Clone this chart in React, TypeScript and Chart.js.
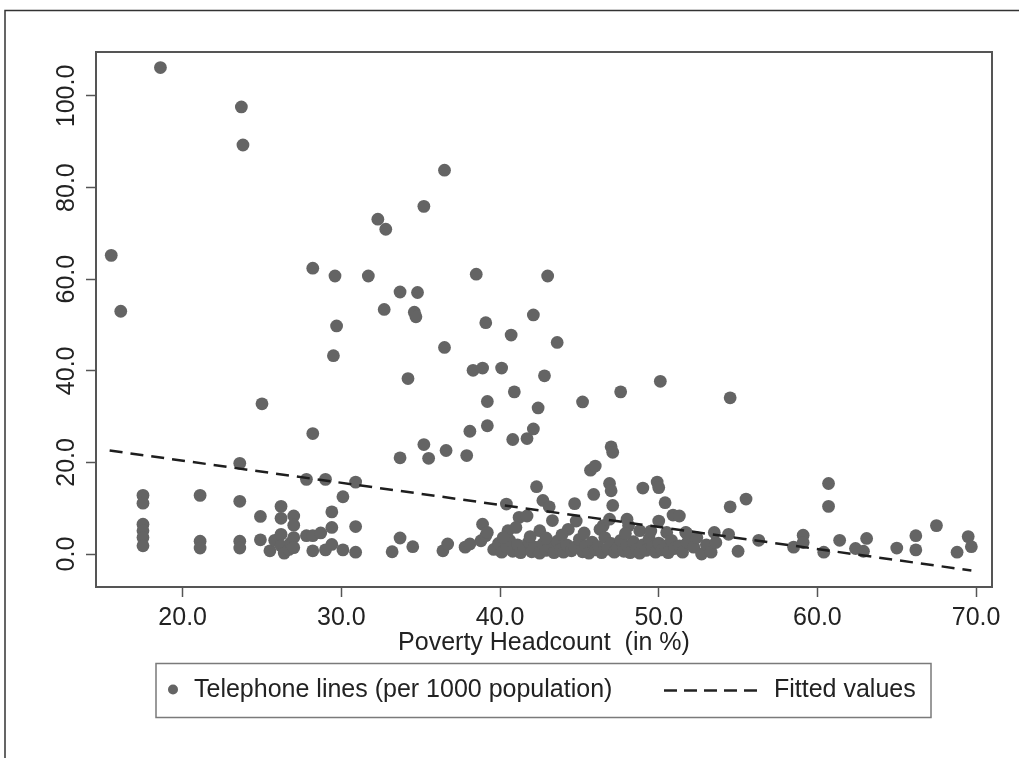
import React, { useEffect, useRef } from "react";
import { Chart, registerables } from "chart.js";

Chart.register(...registerables);

// Poverty headcount (x, %) for each observation
const povertyHeadcount: number[] = [
  // high values
  15.5, 16.1, 18.6, 23.7, 23.8, 25.0, 28.2, 28.2, 29.6, 29.7, 29.5, 31.7, 32.3, 32.8, 32.7, 33.7, 33.7, 34.2, 34.6, 34.7,
  34.8, 35.2, 35.2, 35.5, 36.5, 36.5, 36.6, 37.9, 38.1, 38.3, 38.5, 38.9, 39.1, 39.2, 39.2, 40.1, 40.7, 40.9, 40.8, 41.7,
  42.1, 42.1, 42.4, 42.8, 43.0, 43.6, 45.2, 47.6, 50.1, 54.5,
  // mid values
  17.5, 17.5, 21.1, 23.6, 23.6, 24.9, 26.2, 26.2, 27.0, 27.0, 27.8, 29.0, 29.4, 29.4, 30.1, 30.9, 30.9, 38.9, 40.4, 41.2,
  41.7, 42.3, 42.7, 43.1, 43.3, 44.7, 44.8, 45.7, 46.0, 45.9, 46.9, 47.0, 47.1, 47.0, 47.1, 48.0, 48.1, 49.0, 49.9, 50.0,
  50.0, 50.4, 50.9, 51.3, 54.5, 55.5, 60.7, 60.7, 67.5, 46.5, 46.9, 44.3, 42.5, 40.5, 41.0, 48.8, 51.7, 50.5, 46.3,
  // low values
  17.5, 17.5, 17.5, 17.5, 21.1, 21.1, 23.6, 23.6, 24.9, 25.5, 25.8, 26.2, 26.2, 26.4, 26.7, 26.8, 27.0, 27.0, 27.8, 28.2,
  28.2, 28.7, 29.0, 29.4, 30.1, 30.9, 33.2, 33.7, 34.5, 36.4, 36.7, 37.8, 38.1, 38.8, 39.1, 39.2,
  39.6, 39.9, 40.1, 40.4, 40.6, 40.8, 41.1, 41.3, 41.5, 41.8, 42.0, 42.2, 42.5, 42.7, 42.9, 43.1, 43.4, 43.6, 43.8, 44.0,
  44.2, 44.5, 44.7, 45.0, 45.2, 45.4, 45.6, 45.8, 46.0, 46.2, 46.4, 46.6, 46.8, 47.0, 47.2, 47.4, 47.6, 47.8, 48.0, 48.2,
  48.4, 48.6, 48.8, 49.0, 49.2, 49.4, 49.6, 49.8, 50.0, 50.2, 50.4, 50.6, 50.8, 51.0, 51.3, 51.5, 51.8, 52.2, 52.7, 53.0,
  53.3, 53.6, 53.5, 54.4, 55.0, 56.3, 58.5, 59.1, 59.1, 60.4, 61.4, 62.4, 62.9, 63.1, 65.0, 66.2, 66.2, 68.8, 69.5, 69.7,
  51.75, 41.9, 43.9, 45.3, 47.9, 49.5, 52.4, 40.2, 42.9,
];

// Telephone lines per 1000 population (y) for each observation
const telephoneLines: number[] = [
  // high values
  65.2, 53.0, 106.2, 97.6, 89.3, 32.8, 62.4, 26.3, 60.7, 49.8, 43.3, 60.7, 73.1, 70.9, 53.4, 57.2, 21.0, 38.3, 52.8, 51.8,
  57.1, 75.9, 23.9, 20.9, 83.8, 45.1, 22.6, 21.5, 26.8, 40.1, 61.1, 40.6, 50.5, 33.3, 28.0, 40.6, 47.8, 35.4, 25.0, 25.2,
  52.2, 27.3, 31.9, 38.9, 60.7, 46.2, 33.2, 35.4, 37.7, 34.1,
  // mid values
  12.8, 11.1, 12.8, 19.8, 11.5, 8.2, 10.4, 7.8, 8.3, 6.3, 16.3, 16.3, 9.2, 5.8, 12.5, 15.7, 6.0, 6.5, 10.9, 8.0,
  8.3, 14.7, 11.7, 10.3, 7.3, 11.0, 7.2, 18.3, 19.2, 13.0, 15.4, 13.8, 10.6, 23.4, 22.2, 7.6, 6.2, 14.4, 15.7, 14.5,
  7.2, 11.2, 8.5, 8.3, 10.3, 12.0, 15.4, 10.4, 6.2, 6.2, 7.6, 5.4, 5.1, 5.1, 5.8, 5.1, 4.7, 4.7, 5.4,
  // low values
  6.5, 5.1, 3.6, 1.8, 2.8, 1.3, 2.8, 1.3, 3.1, 0.7, 3.0, 4.3, 1.8, 0.2, 1.0, 2.4, 3.6, 1.4, 4.0, 4.0,
  0.7, 4.6, 0.9, 2.1, 0.9, 0.4, 0.5, 3.5, 1.6, 0.7, 2.2, 1.5, 2.2, 2.9, 4.0, 4.7,
  1.0, 2.3, 0.4, 1.6, 3.0, 0.6, 2.0, 0.3, 1.2, 2.6, 0.5, 1.5, 0.2, 2.2, 0.8, 1.7, 0.3, 2.8, 1.0, 0.4,
  2.0, 0.7, 1.5, 3.2, 0.5, 1.8, 0.2, 2.6, 0.9, 1.6, 0.3, 3.6, 1.1, 2.3, 0.4, 1.4, 3.0, 0.6, 1.9, 0.3,
  2.7, 1.0, 0.2, 2.0, 0.8, 3.4, 1.5, 0.4, 2.4, 0.9, 1.8, 0.3, 3.0, 1.2, 1.8, 0.4, 2.5, 1.5, 0.0, 2.0,
  0.4, 2.5, 4.7, 4.3, 0.6, 3.0, 1.5, 4.1, 2.5, 0.4, 3.0, 1.2, 0.6, 3.4, 1.3, 4.0, 0.9, 0.4, 3.8, 1.6,
  4.6, 3.8, 4.2, 4.6, 4.5, 5.0, 3.6, 3.6, 3.5,
];

// Fitted regression line end points
const fittedX: number[] = [15.4, 69.7];
const fittedY: number[] = [22.6, -3.6];

const xTickValues: number[] = [20, 30, 40, 50, 60, 70];
const xTickLabels: string[] = ["20.0", "30.0", "40.0", "50.0", "60.0", "70.0"];
const yTickValues: number[] = [0, 20, 40, 60, 80, 100];
const yTickLabels: string[] = ["0.0", "20.0", "40.0", "60.0", "80.0", "100.0"];

const xAxisTitle = "Poverty Headcount  (in %)";
const scatterLabel = "Telephone lines (per 1000 population)";
const fittedLabel = "Fitted values";

const FONT = "25px 'Liberation Sans', Arial, Helvetica, sans-serif";
const TEXT_COLOR = "#222222";
const DOT_COLOR = "#646464";
const AXIS_COLOR = "#555555";

const decorPlugin = {
  id: "decor",
  afterDraw(chart: any) {
    const { ctx, chartArea, scales } = chart;
    const { left, top, right, bottom } = chartArea;
    const xs = scales.x;
    const ys = scales.y;
    ctx.save();

    // plot box
    ctx.strokeStyle = AXIS_COLOR;
    ctx.lineWidth = 2;
    ctx.strokeRect(left, top, right - left, bottom - top);

    // tick labels
    ctx.fillStyle = TEXT_COLOR;
    ctx.font = FONT;
    ctx.textAlign = "center";
    ctx.textBaseline = "middle";
    xTickValues.forEach((v, i) => {
      ctx.fillText(xTickLabels[i], xs.getPixelForValue(v), 618);
    });
    yTickValues.forEach((v, i) => {
      ctx.save();
      ctx.translate(67, ys.getPixelForValue(v));
      ctx.rotate(-Math.PI / 2);
      ctx.fillText(yTickLabels[i], 0, 0);
      ctx.restore();
    });

    // axis title
    ctx.fillText(xAxisTitle, (left + right) / 2, 643);

    // legend
    const lx = 156, ly = 663.5, lw = 775, lh = 54;
    ctx.strokeStyle = "#7a7a7a";
    ctx.lineWidth = 1.5;
    ctx.strokeRect(lx, ly, lw, lh);
    const cy = ly + lh / 2;
    ctx.fillStyle = DOT_COLOR;
    ctx.beginPath();
    ctx.arc(173, cy - 1, 5, 0, Math.PI * 2);
    ctx.fill();
    ctx.fillStyle = TEXT_COLOR;
    ctx.textAlign = "left";
    ctx.fillText(scatterLabel, 194, cy);
    ctx.strokeStyle = "#222";
    ctx.lineWidth = 2.5;
    ctx.setLineDash([13, 7]);
    ctx.beginPath();
    ctx.moveTo(664, cy);
    ctx.lineTo(759, cy);
    ctx.stroke();
    ctx.setLineDash([]);
    ctx.fillText(fittedLabel, 774, cy);

    // outer figure frame
    ctx.strokeStyle = "#333";
    ctx.lineWidth = 1.5;
    ctx.beginPath();
    ctx.moveTo(5, 758);
    ctx.lineTo(5, 10.5);
    ctx.lineTo(1019, 10.5);
    ctx.stroke();

    ctx.restore();
  },
};

export default function App() {
  const canvasRef = useRef<HTMLCanvasElement | null>(null);

  useEffect(() => {
    const canvas = canvasRef.current;
    if (!canvas) return;
    const scatterPoints = povertyHeadcount.map((x, i) => ({ x, y: telephoneLines[i] }));
    const fittedPoints = fittedX.map((x, i) => ({ x, y: fittedY[i] }));

    const chart = new Chart(canvas, {
      type: "scatter",
      data: {
        datasets: [
          {
            type: "line",
            label: fittedLabel,
            data: fittedPoints,
            borderColor: "#1e1e1e",
            borderWidth: 2.5,
            borderDash: [13, 8],
            pointRadius: 0,
            fill: false,
            order: 0,
          } as any,
          {
            type: "scatter",
            label: scatterLabel,
            data: scatterPoints,
            backgroundColor: DOT_COLOR,
            borderWidth: 0,
            pointRadius: 6.4,
            pointHoverRadius: 6.4,
            order: 1,
          },
        ],
      },
      options: {
        responsive: false,
        devicePixelRatio: 1,
        animation: false,
        layout: { padding: { left: 8, top: 52, right: 27, bottom: 0 } },
        plugins: { legend: { display: false }, tooltip: { enabled: false } },
        scales: {
          x: {
            type: "linear",
            min: 14.54,
            max: 71.0,
            afterBuildTicks: (s: any) => {
              s.ticks = xTickValues.map((v) => ({ value: v }));
            },
            afterFit: (s: any) => {
              s.height = 171;
            },
            ticks: { display: false },
            grid: {
              drawOnChartArea: false,
              drawTicks: true,
              tickLength: 10,
              tickColor: AXIS_COLOR,
              tickWidth: 1.5,
            },
            border: { display: true, color: AXIS_COLOR, width: 2 },
          },
          y: {
            type: "linear",
            min: -7.2,
            max: 109.6,
            afterBuildTicks: (s: any) => {
              s.ticks = yTickValues.map((v) => ({ value: v }));
            },
            afterFit: (s: any) => {
              s.width = 88;
            },
            ticks: { display: false },
            grid: {
              drawOnChartArea: false,
              drawTicks: true,
              tickLength: 10,
              tickColor: AXIS_COLOR,
              tickWidth: 1.5,
            },
            border: { display: true, color: AXIS_COLOR, width: 2 },
          },
        },
      },
      plugins: [decorPlugin],
    });
    return () => chart.destroy();
  }, []);

  return (
    <div style={{ position: "absolute", left: 0, top: 0, width: 1019, height: 758, background: "#ffffff" }}>
      <canvas ref={canvasRef} width={1019} height={758} style={{ display: "block", width: 1019, height: 758 }} />
    </div>
  );
}
